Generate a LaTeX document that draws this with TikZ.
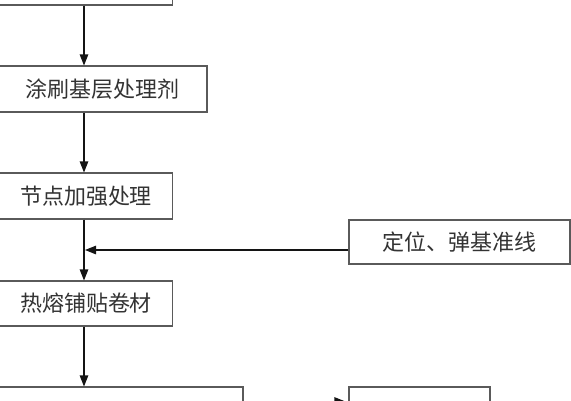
\documentclass[tikz,border=0pt]{standalone}
\usepackage{fontspec}
\usepackage{tikz}
\usetikzlibrary{arrows.meta,positioning}
\newfontfamily\cjk{Noto Sans CJK SC}
\definecolor{flowedge}{RGB}{90,90,90}
\definecolor{flowink}{RGB}{20,20,20}
\tikzset{
  flowbox/.style={draw=flowedge, line width=1.1pt, fill=white,
    inner sep=0pt, minimum height=46pt, font=\cjk\fontsize{22}{26}\selectfont,
    text=black!80},
  flowarrow/.style={-{Triangle[length=11pt,width=8.5pt]}, line width=1.1pt,
    flowink},
}
\begin{document}
\begin{tikzpicture}[x=1pt,y=-1pt]
  \useasboundingbox (0,0) rectangle (571,400);
  \clip (0,0) rectangle (571,400);
  % main column
  \node[flowbox, minimum width=175pt] (prev) at (85,-18) {};
  \node[flowbox, minimum width=208pt] (primer) at (103,89) {涂刷基层处理剂};
  \node[flowbox, minimum width=173pt] (detail) at (86,196) {节点加强处理};
  \node[flowbox, minimum width=173pt, minimum height=45pt] (torch) at (86,303.5) {热熔铺贴卷材};
  \node[flowbox, minimum width=244pt] (seam) at (121,410) {};
  % side boxes
  \node[flowbox, minimum width=221pt, minimum height=44pt] (layout) at (459.5,242) {定位、弹基准线};
  \node[flowbox, minimum width=141pt] (next) at (419.5,410) {};
  \coordinate (joint) at (84,250);
  \coordinate (low) at (0,401.5);
  \draw[flowarrow] (joint |- prev.south) -- (joint |- primer.north);
  \draw[flowarrow] (joint |- primer.south) -- (joint |- detail.north);
  \draw[flowarrow] (joint |- detail.south) -- (joint |- torch.north);
  \draw[flowarrow] (layout.west |- joint) -- ([xshift=1pt]joint);
  \draw[flowarrow] (joint |- torch.south) -- (joint |- seam.north);
  \draw[flowarrow] (seam.east |- low) -- ([xshift=-3pt]next.west |- low);
\end{tikzpicture}
\end{document}
